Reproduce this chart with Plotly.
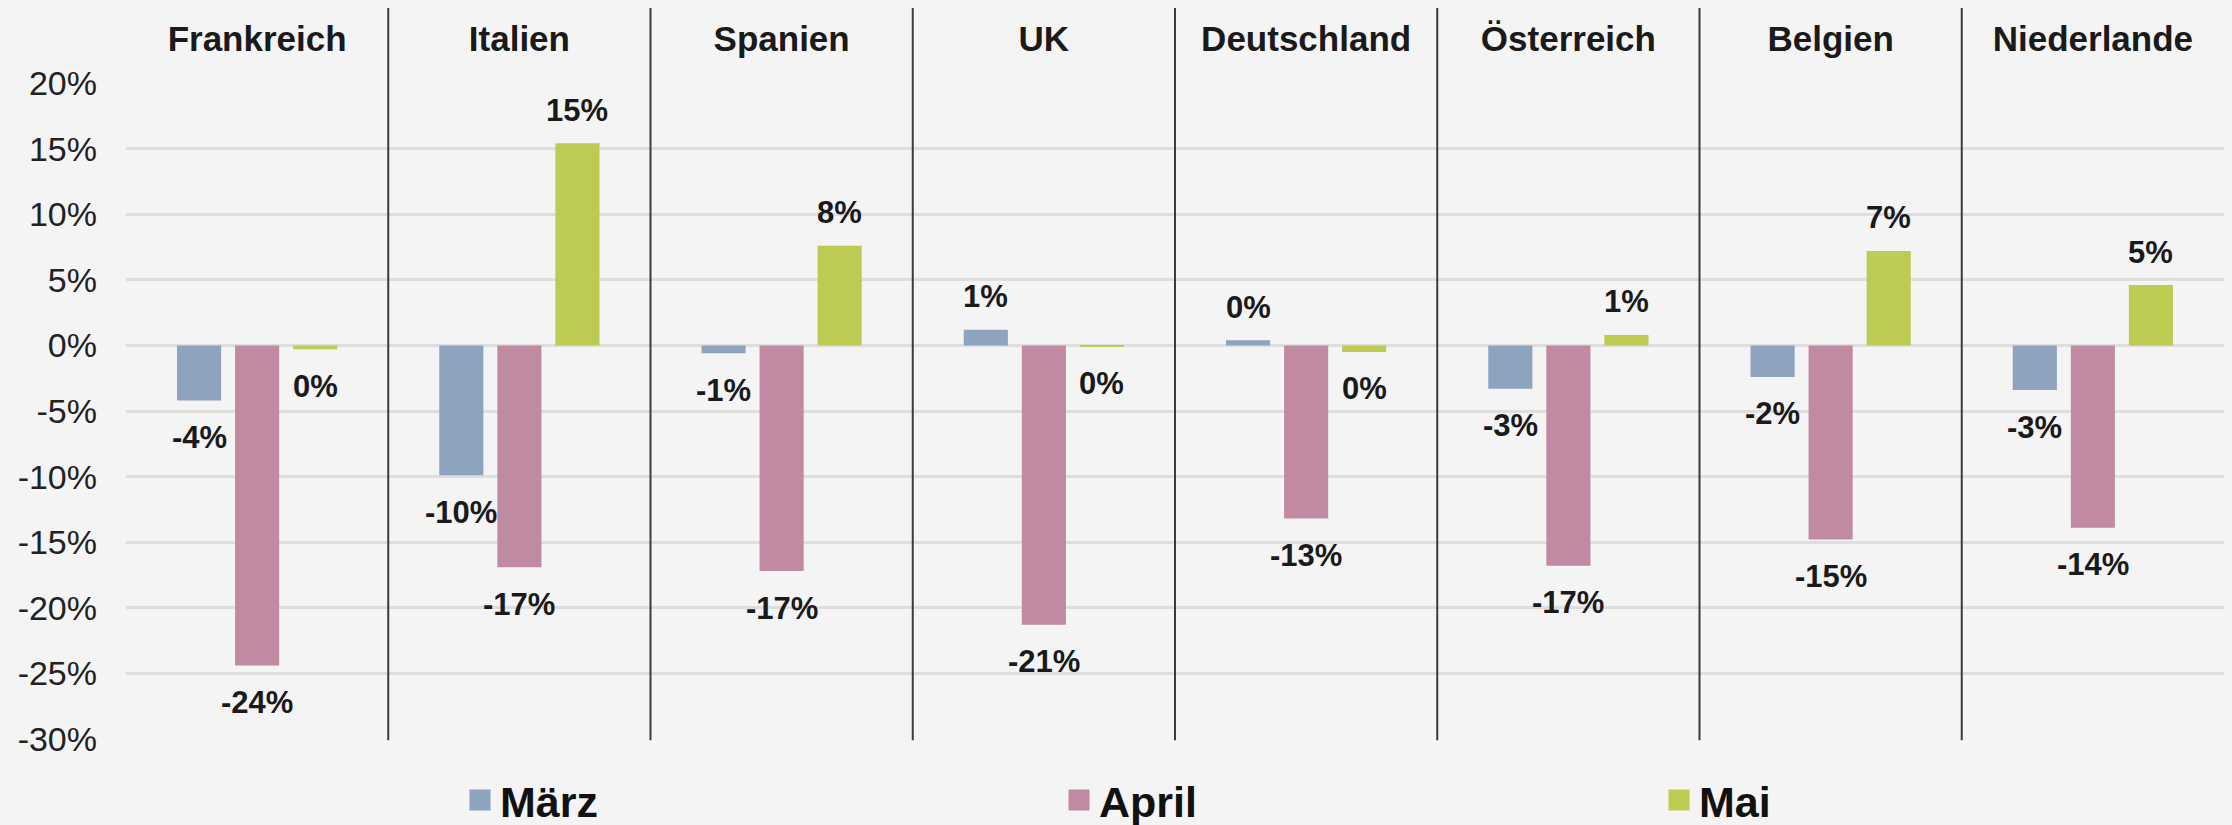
import plotly.graph_objects as go

countries = ["Frankreich", "Italien", "Spanien", "UK", "Deutschland", "Österreich", "Belgien", "Niederlande"]
series_names = ["März", "April", "Mai"]
maerz = [-4.2, -9.9, -0.6, 1.2, 0.4, -3.3, -2.4, -3.4]
april = [-24.4, -16.9, -17.2, -21.3, -13.2, -16.8, -14.8, -13.9]
mai = [-0.3, 15.4, 7.6, -0.1, -0.5, 0.8, 7.2, 4.6]
colors = ["#8DA3BE", "#C08AA3", "#BDCB52"]
tick_vals = [20, 15, 10, 5, 0, -5, -10, -15, -20, -25, -30]
tick_text = ["20%", "15%", "10%", "5%", "0%", "-5%", "-10%", "-15%", "-20%", "-25%", "-30%"]

W, H = 2232, 825
ML, MR, MT, MB = 126, 8, 83, 86
BARGAP = 0.336
GROUPGAP = 0.24
FONT = "Arial, Liberation Sans, Helvetica, sans-serif"

fig = go.Figure()
all_series = [maerz, april, mai]
legends = ["legend", "legend2", "legend3"]
for name, vals, col, lg in zip(series_names, all_series, colors, legends):
    fig.add_trace(go.Bar(
        x=countries, y=vals, name=name, marker=dict(color=col, line=dict(width=0)),
        legend=lg, legendgroup=name, showlegend=False, hoverinfo="x+y",
    ))
    # legend swatch (square) for the same series
    fig.add_trace(go.Scatter(
        x=[None], y=[None], mode="markers", name=name, legend=lg, legendgroup=name,
        marker=dict(symbol="square", size=16, color=col, line=dict(color=col, width=5)),
        showlegend=True, hoverinfo="skip",
    ))

# value labels
slot = (1 - BARGAP) / 3
annotations = []
for k, vals in enumerate(all_series):
    off = (k - 1) * slot
    for i, v in enumerate(vals):
        r = int(round(v))
        txt = f"{r}%"
        annotations.append(dict(
            x=i + off, y=v, xref="x", yref="y", text=txt, showarrow=False,
            yshift=33 if v >= 0 else -37, yanchor="middle", xanchor="center",
            font=dict(family=FONT, size=31, color="#1a1a1a", weight="bold"),
        ))

# group dividers
shapes = []
plot_h = H - MT - MB
for i in range(len(countries) - 1):
    shapes.append(dict(
        type="line", xref="x", yref="paper", x0=i + 0.5, x1=i + 0.5,
        y0=-0.002, y1=1 + (MT - 8) / plot_h,
        line=dict(color="#3a3a3a", width=2), layer="above",
    ))

fig.update_layout(
    width=W, height=H,
    margin=dict(l=ML, r=MR, t=MT, b=MB, pad=0, autoexpand=False),
    paper_bgcolor="#F4F4F4", plot_bgcolor="#F4F4F4",
    barmode="group", bargap=BARGAP, bargroupgap=GROUPGAP,
    font=dict(family=FONT, color="#222222"),
    annotations=annotations, shapes=shapes,
    xaxis=dict(
        side="top", showgrid=False, zeroline=False, showline=False, ticks="",
        tickfont=dict(family=FONT, size=35, color="#1a1a1a", weight="bold"),
        ticklabelstandoff=24, range=[-0.5, len(countries) - 0.5], automargin=False,
    ),
    yaxis=dict(
        range=[-30, 20], tickvals=tick_vals, ticktext=tick_text,
        showgrid=True, gridcolor="#DEDEDE", gridwidth=3,
        zeroline=True, zerolinecolor="#DEDEDE", zerolinewidth=3,
        showline=False, ticks="", ticklabelstandoff=28, automargin=False,
        tickfont=dict(family=FONT, size=34, color="#222222"),
    ),
)

leg_y = 1 - 800 / H
leg_common = dict(
    orientation="h", xref="container", yref="container",
    yanchor="middle", xanchor="left", bgcolor="rgba(0,0,0,0)",
    font=dict(family=FONT, size=43, color="#111111", weight="bold"),
    itemwidth=30, borderwidth=0, visible=True, itemsizing="trace",
)
fig.update_layout(
    legend=dict(x=460 / W, y=leg_y, **leg_common),
    legend2=dict(x=1059 / W, y=leg_y, **leg_common),
    legend3=dict(x=1659 / W, y=leg_y, **leg_common),
    showlegend=True,
)

fig.write_html(
    "out.html",
    config={"displayModeBar": False},
    post_script="document.body.style.margin='0';document.body.style.background='#F4F4F4';",
)
